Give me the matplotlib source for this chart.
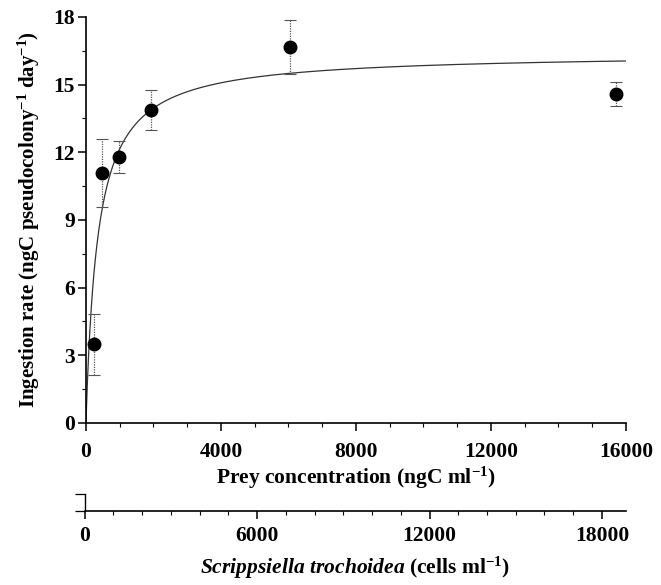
import numpy as np
import matplotlib.pyplot as plt
from matplotlib.ticker import MultipleLocator

plt.rcParams["font.family"] = ["Liberation Serif", "DejaVu Serif"]
plt.rcParams["font.weight"] = "bold"
plt.rcParams["mathtext.fontset"] = "custom"
plt.rcParams["mathtext.rm"] = "Liberation Serif:bold"
plt.rcParams["mathtext.it"] = "Liberation Serif:italic:bold"
plt.rcParams["mathtext.bf"] = "Liberation Serif:bold"

# Mean ingestion rates with standard errors
prey_conc = [240, 480, 980, 1930, 6050, 15700]          # ngC ml-1
ingestion = [3.48, 11.08, 11.80, 13.88, 16.67, 14.58]   # ngC pseudocolony-1 day-1
ingestion_se = [1.35, 1.5, 0.7, 0.9, 1.2, 0.53]

# Michaelis-Menten fit parameters
i_max = 16.4
k_half = 350

x_fit = np.linspace(0, 16000, 800)
y_fit = i_max * x_fit / (k_half + x_fit)

fig = plt.figure(figsize=(6.61, 5.85), dpi=100)
ax = fig.add_axes([0.130, 0.277, 0.817, 0.694])

ax.plot(x_fit, y_fit, color="#333333", lw=0.9)
eb = ax.errorbar(prey_conc, ingestion, yerr=ingestion_se, fmt="none",
                 ecolor="#555555", elinewidth=0.9, capsize=4, capthick=0.8,
                 zorder=2)
eb[2][0].set_linestyle((0, (1, 1)))
ax.plot(prey_conc, ingestion, "o", color="black", ms=9, zorder=3)

ax.set_xlim(0, 16000)
ax.set_ylim(0, 18)
ax.xaxis.set_major_locator(MultipleLocator(4000))
ax.xaxis.set_minor_locator(MultipleLocator(1000))
ax.yaxis.set_major_locator(MultipleLocator(3))
ax.yaxis.set_minor_locator(MultipleLocator(1.5))

for s in ["top", "right"]:
    ax.spines[s].set_visible(False)
for s in ["left", "bottom"]:
    ax.spines[s].set_linewidth(1.2)

ax.tick_params(which="major", direction="out", length=6, width=1.1,
               labelsize=15.5, pad=2)
ax.tick_params(axis="x", which="major", pad=8)
ax.tick_params(which="minor", direction="out", length=3, width=0.8)
for lab in ax.get_xticklabels() + ax.get_yticklabels():
    lab.set_fontweight("bold")

ax.set_xlabel("Prey concentration (ngC ml$^{-1}$)", fontsize=15.5,
              fontweight="bold", labelpad=2)
ax.set_ylabel("Ingestion rate (ngC pseudocolony$^{-1}$ day$^{-1}$)",
              fontsize=15, fontweight="bold", labelpad=8)

# Second scale: the same prey expressed as cell abundance
ax2 = fig.add_axes([0.128, 0.1265, 0.819, 0.029])
ax2.patch.set_visible(False)
ax2.set_xlim(0, 18835)
ax2.set_ylim(0, 1)
ax2.xaxis.set_major_locator(MultipleLocator(6000))
ax2.xaxis.set_minor_locator(MultipleLocator(1000))
ax2.set_yticks([0, 1])
ax2.set_yticklabels([])
for s in ["top", "right"]:
    ax2.spines[s].set_visible(False)
ax2.spines["bottom"].set_linewidth(1.2)
ax2.spines["left"].set_linewidth(1.0)
ax2.tick_params(which="major", direction="out", length=6, width=1.1,
                labelsize=15.5, pad=5)
ax2.tick_params(axis="y", length=7, width=0.9)
ax2.tick_params(which="minor", direction="out", length=3, width=0.8)
for lab in ax2.get_xticklabels():
    lab.set_fontweight("bold")
ax2.set_xlabel(r"$\it{Scrippsiella\ trochoidea}$ (cells ml$^{-1}$)",
               fontsize=15.5, fontweight="bold", labelpad=6)

fig.savefig("out.png", dpi=100)
